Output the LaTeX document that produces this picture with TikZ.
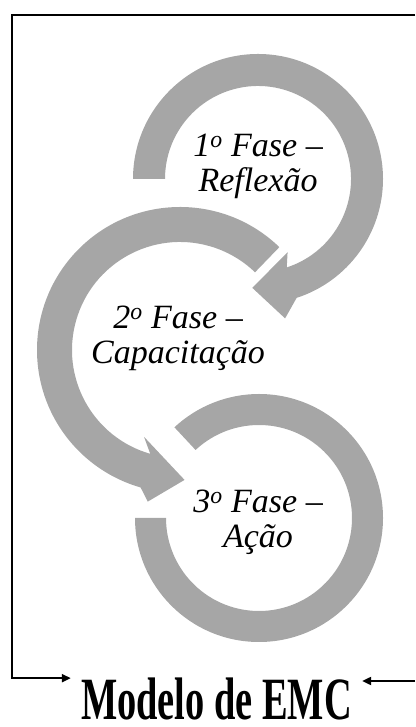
\documentclass[tikz,border=0pt]{standalone}
\usepackage{fontspec}
\setmainfont{Liberation Serif}
\usetikzlibrary{arrows.meta}
\definecolor{rrc}{rgb}{0.65,0.65,0.65}

\begin{document}
\begin{tikzpicture}[x=1pt, y=1pt, ring/.style={fill=rrc, draw=none}, phase/.style={align=center, inner sep=0pt, font=\fontsize{34}{35}\selectfont\itshape}, flow/.style={line width=2pt, -{Triangle[length=9pt, width=8pt]}}]

    \useasboundingbox (0,0) rectangle (415,727);

    \coordinate (c1) at (258,548);
    \coordinate (c2) at (180,377);
    \coordinate (c3) at (259,209);
    \coordinate (corner) at (12,712);
    \coordinate (topend) at (415,712);
    \coordinate (rightend) at (415,46);

    \fill[ring, shift={(c1)}] (180:125) arc[start angle=180, end angle=-72, radius=125] -- (-79:142) -- (-93:109) -- (-68:79) -- (-72:93) arc[start angle=-72, end angle=180, radius=93] -- cycle;
    \fill[ring, shift={(c2)}] (46:143) arc[start angle=46, end angle=254, radius=143] -- (258:155) -- (272:130) -- (247.5:94) -- (254:108) arc[start angle=254, end angle=46, radius=108] -- cycle;
    \fill[ring, shift={(c3)}] (180:124) arc[start angle=180, end angle=493, radius=124] -- (493:93) arc[start angle=493, end angle=180, radius=93] -- cycle;

    \node[phase] (f1) at (258,561) {1\textsuperscript{o} Fase –\\Reflexão};
    \node[phase] (f2) at (178,389) {2\textsuperscript{o} Fase –\\Capacitação};
    \node[phase] (f3) at (258,205) {3\textsuperscript{o} Fase –\\Ação};
    \node[anchor=base, inner xsep=10pt, inner ysep=0pt] (modelo) at (216.5,7) {\fontsize{60}{60}\selectfont\bfseries\scalebox{0.64}[1]{Modelo de EMC}};

    \draw[flow] (topend) -- (corner) |- (modelo.north west);
    \draw[flow] (rightend) -- (rightend -| modelo.north east);

  \end{tikzpicture}
\end{document}
